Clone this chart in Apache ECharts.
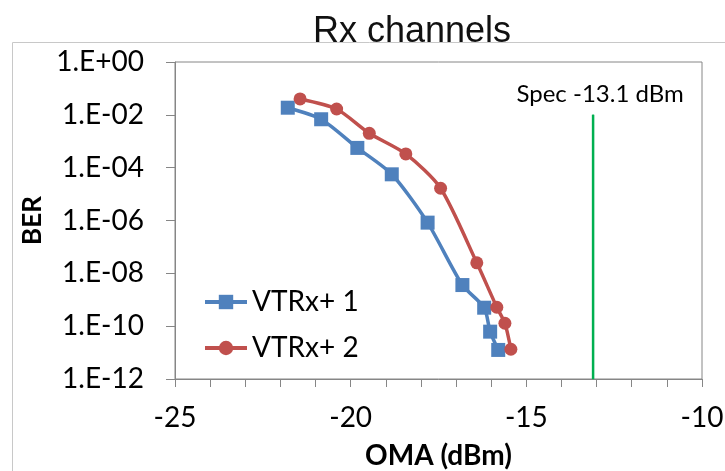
<!DOCTYPE html>
<html>
<head>
<meta charset="utf-8" />
<title>Rx channels</title>
<script src="https://cdn.jsdelivr.net/npm/echarts@6/dist/echarts.min.js"></script>
<style type="text/css">
  html, body { margin: 0; padding: 0; background: #fff; }
</style>
</head>
<body>
<div id="main" style="width: 725px;height: 471px"></div>
<script type="text/javascript">
// OMA (dBm) and BER
var oma1 = [-21.79, -20.84, -19.81, -18.83, -17.81, -16.82, -16.20, -16.03, -15.80];
var ber1 = [1.86e-2, 6.8e-3, 5.6e-4, 5.6e-5, 8.3e-7, 3.6e-9, 5.0e-10, 6.2e-11, 1.26e-11];
var oma2 = [-21.44, -20.40, -19.47, -18.43, -17.44, -16.41, -15.84, -15.61, -15.44];
var ber2 = [4.0e-2, 1.66e-2, 2.0e-3, 3.3e-4, 1.66e-5, 2.5e-8, 5.2e-10, 1.29e-10, 1.34e-11];
var seriesNames = ['VTRx+ 1', 'VTRx+ 2'];
var specOma = -13.1;
var specBer = [1e-2, 1e-12];

var lato = "Lato, 'Open Sans', sans-serif";

function pairs(xs, ys) {
    var out = [];
    for (var i = 0; i < xs.length; i++) out.push([xs[i], ys[i]]);
    return out;
}

function berLabel(v) {
    var e = Math.round(Math.log10(v));
    var s = e < 0 ? '-' : '+';
    var n = Math.abs(e);
    return '1.E' + s + (n < 10 ? '0' + n : n);
}

var myChart = echarts.init(document.getElementById('main'));

var option = {
    animation: false,
    title: {
        text: 'Rx channels',
        left: 407,
        textAlign: 'center',
        top: 9,
        textStyle: { fontFamily: "'Liberation Sans', sans-serif", fontSize: 36, fontWeight: 'normal', color: '#111' }
    },
    graphic: [{
        type: 'rect',
        z: -10,
        silent: true,
        shape: { x: 12.5, y: 42.5, width: 800, height: 600 },
        style: { fill: 'none', stroke: '#c8c8c8', lineWidth: 1 }
    }],
    legend: {
        orient: 'vertical',
        left: 198,
        top: 281,
        itemWidth: 42,
        itemHeight: 18,
        itemGap: 14,
        data: seriesNames,
        lineStyle: { width: 4 },
        textStyle: { fontFamily: lato, fontSize: 28, color: '#000', lineHeight: 32 }
    },
    grid: {
        left: 175, top: 62, right: 23, bottom: 92,
        outerBoundsMode: 'none',
        show: true, borderColor: '#868686', borderWidth: 1
    },
    xAxis: {
        type: 'value',
        min: -25, max: -10, interval: 5,
        name: 'OMA (dBm)',
        nameLocation: 'middle',
        nameGap: 63,
        nameTextStyle: { fontFamily: lato, fontSize: 28, fontWeight: 'bold', color: '#000' },
        axisLine: { lineStyle: { color: '#868686', width: 1 } },
        axisTick: { length: 8, lineStyle: { color: '#868686' } },
        minorTick: { show: true, splitNumber: 5, length: 8, lineStyle: { color: '#868686' } },
        splitLine: { show: false },
        axisLabel: { fontFamily: lato, fontSize: 28, color: '#000', margin: 25 }
    },
    yAxis: {
        type: 'log',
        logBase: 10,
        min: 1e-12, max: 1, interval: 2,
        name: 'BER',
        nameLocation: 'middle',
        nameGap: 127,
        nameRotate: 90,
        nameTextStyle: { fontFamily: lato, fontSize: 26, fontWeight: 'bold', color: '#000' },
        axisLine: { show: true, lineStyle: { color: '#868686', width: 1 } },
        axisTick: { show: true, length: 9, lineStyle: { color: '#868686' } },
        splitLine: { show: false },
        axisLabel: { fontFamily: lato, fontSize: 28, color: '#000', margin: 31, formatter: berLabel }
    },
    series: [
        {
            name: seriesNames[0],
            type: 'line',
            smooth: 0.25,
            symbol: 'rect',
            symbolSize: 14,
            color: '#4F81BD',
            lineStyle: { width: 3.5 },
            data: pairs(oma1, ber1)
        },
        {
            name: seriesNames[1],
            type: 'line',
            smooth: 0.25,
            symbol: 'circle',
            symbolSize: 13,
            color: '#C0504D',
            lineStyle: { width: 3.5 },
            data: pairs(oma2, ber2)
        },
        {
            name: 'spec',
            type: 'line',
            symbol: 'circle',
            symbolSize: 1,
            color: '#00B050',
            lineStyle: { width: 2.5 },
            label: { show: false },
            data: [
                {
                    value: [specOma, specBer[0]],
                    label: {
                        show: true,
                        position: 'top',
                        distance: 8,
                        offset: [7, 0],
                        formatter: 'Spec ' + specOma + ' dBm',
                        fontFamily: lato, fontSize: 24, color: '#000'
                    }
                },
                [specOma, specBer[1]]
            ]
        }
    ]
};

myChart.setOption(option);
</script>
</body>
</html>
